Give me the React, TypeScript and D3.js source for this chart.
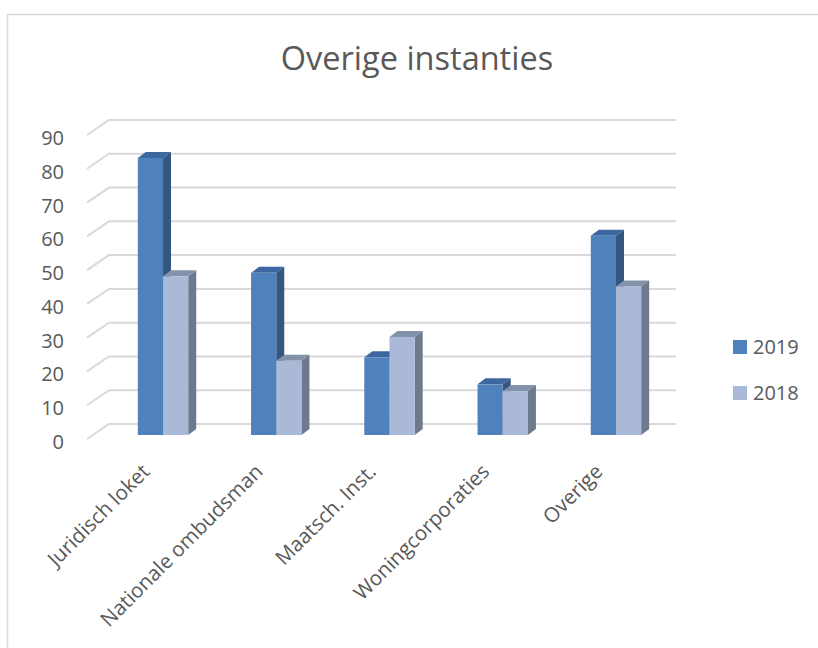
import React from 'react';
import * as d3 from 'd3';

const categories = ['Juridisch loket', 'Nationale ombudsman', 'Maatsch. Inst.', 'Woningcorporaties', 'Overige'];
const seriesNames = ['2019', '2018'];
const values2019 = [82, 48, 23, 15, 59];
const values2018 = [47, 22, 29, 13, 44];
const yTicks = [0, 10, 20, 30, 40, 50, 60, 70, 80, 90];

const W = 818;
const H = 648;
const font = "'Open Sans', sans-serif";

// colours per series: front, top, side
const faces = [
  { front: '#4f81bd', top: '#3c67a0', side: '#34567f' },
  { front: '#aab9d7', top: '#8491aa', side: '#6d798c' },
];

// 3d look: wall depth and bar depth offsets
const wallDx = 22, wallDy = -15;
const barDx = 8, barDy = -6;

const App = () => {
  const yWall = d3.scaleLinear().domain([0, 90]).range([424, 120]);
  const yBar = d3.scaleLinear().domain([0, 90]).range([435, 131]);
  const x = d3.scaleBand<string>().domain(categories).range([106.4, 672.6]);
  const barW = 25.2;
  const wallLeft = 109, wallRight = 676;

  const series = [values2019, values2018];

  return (
    <svg width={W} height={H} style={{ position: 'absolute', left: 0, top: 0, background: '#fff' }}>
      <rect x={7.5} y={14.5} width={W + 20} height={H + 20} fill="#fff" stroke="#d9d9d9" strokeWidth={1.5} />

      <text x={417} y={70} textAnchor="middle" fontFamily={font} fontSize={32.5} fill="#595959">
        Overige instanties
      </text>

      {/* gridlines on the wall */}
      <g stroke="#d9d9d9" strokeWidth={2} fill="none">
        {yTicks.map((t) => (
          <path
            key={t}
            d={`M${wallLeft - wallDx},${yWall(t) - wallDy} L${wallLeft},${yWall(t)} L${wallRight},${yWall(t)}`}
          />
        ))}
      </g>

      {/* y tick labels */}
      <g fontFamily={font} fontSize={20} fill="#595959" textAnchor="end">
        {yTicks.map((t) => (
          <text key={t} x={64} y={yWall(t) - wallDy + 3} dy="0.35em">
            {t}
          </text>
        ))}
      </g>

      {/* bars */}
      {categories.map((c, i) => {
        const cx = (x(c) as number) + x.bandwidth() / 2;
        return (
          <g key={c}>
            {series.map((vals, j) => {
              const x0 = cx - barW + j * barW;
              const yt = yBar(vals[i]);
              const yb = yBar(0);
              const f = faces[j];
              return (
                <g key={j}>
                  <polygon
                    points={`${x0 + barW},${yt} ${x0 + barW + barDx},${yt + barDy} ${x0 + barW + barDx},${yb + barDy} ${x0 + barW},${yb}`}
                    fill={f.side}
                  />
                  <polygon
                    points={`${x0},${yt} ${x0 + barW},${yt} ${x0 + barW + barDx},${yt + barDy} ${x0 + barDx},${yt + barDy}`}
                    fill={f.top}
                  />
                  <rect x={x0} y={yt} width={barW} height={yb - yt} fill={f.front} />
                </g>
              );
            })}
          </g>
        );
      })}

      {/* category labels */}
      <g fontFamily={font} fontSize={20.5} fill="#595959" textAnchor="end">
        {categories.map((c) => {
          const cx = (x(c) as number) + x.bandwidth() / 2;
          const ax = cx - 23;
          const ay = 462;
          return (
            <text key={c} x={ax} y={ay} dy="0.75em" transform={`rotate(-45,${ax},${ay})`}>
              {c}
            </text>
          );
        })}
      </g>

      {/* legend */}
      <g fontFamily={font} fontSize={20} fill="#595959">
        {seriesNames.map((s, j) => (
          <g key={s} transform={`translate(733,${340 + j * 46})`}>
            <rect width={14} height={14} fill={faces[j].front} />
            <text x={20} y={7} dy="0.35em">
              {s}
            </text>
          </g>
        ))}
      </g>
    </svg>
  );
};

export default App;
